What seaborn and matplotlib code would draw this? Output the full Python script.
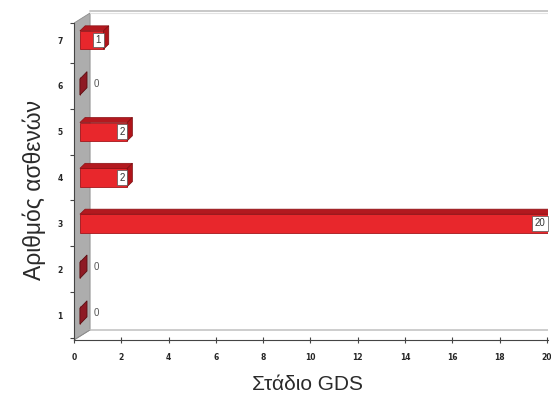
import matplotlib
matplotlib.use("Agg")
import matplotlib.pyplot as plt
from matplotlib.patches import Polygon
import seaborn as sns
import pandas as pd

# GDS stages and number of patients at each stage
stages = ["7", "6", "5", "4", "3", "2", "1"]
patients = [1, 0, 2, 2, 20, 0, 0]
x_ticks = [0, 2, 4, 6, 8, 10, 12, 14, 16, 18, 20]

df = pd.DataFrame({"stage": stages, "patients": patients})

sns.set_theme(style="white")
plt.rcParams["font.family"] = ["Liberation Sans", "DejaVu Sans"]

fig = plt.figure(figsize=(5.51, 3.93), dpi=100)
# plot area: x 74..548 px, y 10..340 px
ax = fig.add_axes([74 / 551, 53 / 393, 474 / 551, 330 / 393])

FRONT = "#e8272c"
sns.barplot(data=df, x="patients", y="stage", order=stages, orient="h",
            color=FRONT, width=0.4, saturation=1, ax=ax,
            edgecolor="#a3161b", linewidth=0.6, zorder=4)

x_max = 20.05
y_bot, y_top = 6.545, -0.655
ax.set_xlim(0, x_max)
ax.set_ylim(y_bot, y_top)

# pseudo-3D depth of the chart box and of the bars (data units)
wall_dx, wall_dy = 0.68, -0.22
bar_dx, bar_dy = 0.22, -0.11
shift = 0.25

# grey side wall, floor and back edge
wall_front_top = -0.37
wall = Polygon([(0, y_bot), (0, wall_front_top), (wall_dx, wall_front_top + wall_dy),
                (wall_dx, y_bot + wall_dy)],
               closed=True, facecolor="#adadad", edgecolor="#8c8c8c", lw=0.6, zorder=1)
ax.add_patch(wall)
ax.plot([wall_dx, x_max], [y_bot + wall_dy, y_bot + wall_dy], color="#c9c9c9", lw=1.3, zorder=1)
ax.plot([wall_dx, x_max], [y_top + 0.02, y_top + 0.02], color="#c4c4c4", lw=1.3, zorder=1)
ax.plot([wall_dx, x_max], [y_top + 0.07, y_top + 0.07], color="#e3e3e3", lw=0.8, zorder=1)
ax.plot([0, wall_dx], [y_bot, y_bot + wall_dy], color="#8c8c8c", lw=0.6, zorder=1)

for patch, val in zip(ax.patches[:len(patients)], patients):
    patch.set_x(patch.get_x() + shift)
    x0 = patch.get_x()
    y0 = patch.get_y()
    h = patch.get_height()
    w = patch.get_width()
    yt, yb = y0, y0 + h
    if val > 0:
        top = Polygon([(x0, yt), (x0 + w, yt), (x0 + w + bar_dx, yt + bar_dy), (x0 + bar_dx, yt + bar_dy)],
                      closed=True, facecolor="#b3191f", edgecolor="#8a1014", lw=0.5, zorder=4)
        ax.add_patch(top)
        side = Polygon([(x0 + w, yt), (x0 + w + bar_dx, yt + bar_dy), (x0 + w + bar_dx, yb + bar_dy), (x0 + w, yb)],
                       closed=True, facecolor="#b0141a", edgecolor="#7a0c10", lw=0.5, zorder=4)
        ax.add_patch(side)
        visible_end = min(x0 + w, x_max - 0.02)
        ax.text(visible_end - 0.1, y0 + h / 2, f"{val}", ha="right", va="center", fontsize=7,
                color="#333333", zorder=6,
                bbox=dict(boxstyle="square,pad=0.25", facecolor="white", edgecolor="#555555", lw=0.5))
    else:
        zx, zdx = x0, 0.3
        zero = Polygon([(zx, yb), (zx, yt + 0.05), (zx + zdx, yt + bar_dy), (zx + zdx, yb + bar_dy - 0.05)],
                       closed=True, facecolor="#8e1a24", edgecolor="#5a0c10", lw=0.6, zorder=4)
        ax.add_patch(zero)
        ax.text(0.85, y0 + h / 2 - 0.05, "0", ha="left", va="center", fontsize=7, color="#555555", zorder=6)

ax.set_xticks(x_ticks)
ax.set_xticklabels([str(t) for t in x_ticks], fontsize=5.5, fontweight="bold", family="DejaVu Sans")
ax.set_yticks(range(len(stages)))
ax.set_yticklabels(stages, fontsize=5.5, fontweight="bold", family="DejaVu Sans")
ax.set_yticks([wall_front_top] + [i + 0.5 for i in range(len(stages))], minor=True)
ax.tick_params(axis="y", which="major", length=0, pad=8)
ax.tick_params(axis="y", which="minor", length=3, width=0.8, color="#444444", direction="out", left=True)
ax.tick_params(axis="x", which="major", length=5, width=0.8, color="#444444", direction="inout",
               bottom=True, pad=7)

for side_name in ["top", "right"]:
    ax.spines[side_name].set_visible(False)
for side_name in ["left", "bottom"]:
    ax.spines[side_name].set_color("#444444")
    ax.spines[side_name].set_linewidth(0.8)
ax.spines["left"].set_bounds(y_bot, wall_front_top)

ax.set_xlabel("Στάδιο GDS", fontsize=15, color="#2a2a2a", va="baseline")
ax.xaxis.set_label_coords((308 - 74) / 474, (340 - 390) / 330)
ax.set_ylabel("Αριθμός ασθενών", fontsize=16.5, color="#2a2a2a", va="baseline")
ax.yaxis.set_label_coords((41 - 74) / 474, (340 - 190) / 330)

fig.savefig("out.png", dpi=100)
